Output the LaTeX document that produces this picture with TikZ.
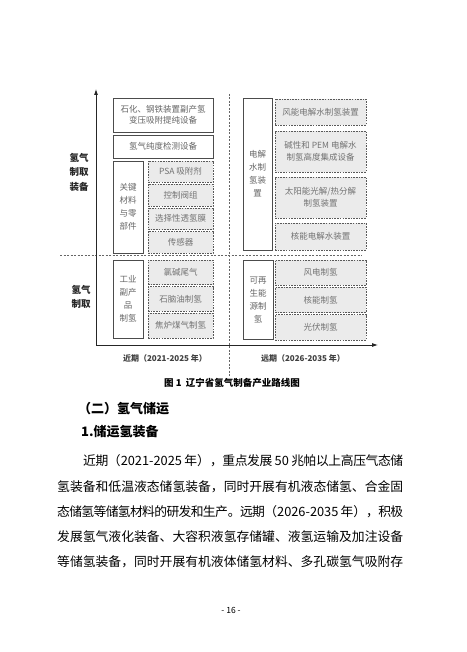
\documentclass[tikz,border=0pt]{standalone}
\usepackage{fontspec}
\setmainfont{Noto Sans CJK SC}
\usepackage{tikz}
\usetikzlibrary{arrows.meta, positioning}
\XeTeXlinebreaklocale "zh"
\XeTeXlinebreakskip=0pt plus 2pt minus 0.8pt

\begin{document}
\begin{tikzpicture}[
  x=1pt, y=-1pt,
  every node/.style={font=\fontsize{8.5}{11.5}\selectfont, inner sep=1pt},
  solidbox/.style={rectangle, draw=black!70, line width=0.9pt, fill=white,
                   text=black!60, align=center},
  narrowbox/.style={solidbox, minimum width=30,
                    font=\fontsize{8.5}{13}\selectfont},
  dashbox/.style={rectangle, draw=black!65, line width=0.9pt,
                  dash pattern=on 1.6pt off 1.1pt, fill=black!8,
                  text=black!55, align=center},
  divider/.style={draw=black!60, line width=0.7pt, dash pattern=on 2pt off 1.5pt},
  axis/.style={draw=black!85, line width=0.8pt},
  ylabel/.style={align=center, text=black!85,
                 font=\fontsize{9.5}{14.5}\selectfont\bfseries},
  xlabel/.style={text=black!75, font=\fontsize{8}{10}\selectfont\bfseries},
  caption/.style={font=\fontsize{9.5}{11}\selectfont\bfseries},
  heading/.style={anchor=west, inner sep=0pt,
                  font=\fontsize{13}{15}\selectfont\bfseries},
  bodyline/.style={anchor=west, inner sep=0pt, text width=346, align=justify,
                   font=\fontsize{12.8}{15}\selectfont,
                   execute at begin node={\parindent=0pt\parfillskip=0pt}},
]
  \useasboundingbox[fill=white] (0,0) rectangle (466,652);

  \coordinate (ytip) at (96,89);
  \coordinate (origin) at (96,345);
  \coordinate (xtip) at (378,345);
  \coordinate (hl) at (60,255);
  \coordinate (hr) at (362,255);
  \coordinate (vt) at (229,94);
  \coordinate (vb) at (229,377);

  \draw[divider] (hl) -- (hr);
  \draw[divider] (vt) -- (vb);
  \draw[axis, {Latex[length=6pt,width=4pt]}-{Latex[length=6pt,width=4pt]}]
    (ytip) -- (origin) -- (xtip);

  % near term
  \node[solidbox, minimum width=100, minimum height=34] (petro) at (163,115)
    {石化、钢铁装置副产氢\\变压吸附提纯设备};
  \node[solidbox, minimum width=100, minimum height=23] (purity) at (163,146.5)
    {氢气纯度检测设备};
  \node[narrowbox, minimum height=92] (keymat) at (128,207) {关键\\材料\\与零\\部件};
  \node[dashbox, minimum width=65, minimum height=21.5] (psa) at (180.5,171.75) {PSA 吸附剂};
  \node[dashbox, minimum width=65, minimum height=21.5] (valve) at (180.5,195.25) {控制阀组};
  \node[dashbox, minimum width=65, minimum height=21.5] (membrane) at (180.5,218.75) {选择性透氢膜};
  \node[dashbox, minimum width=65, minimum height=21.5] (sensor) at (180.5,242.25) {传感器};

  \node[narrowbox, minimum height=78] (byprod) at (128,299) {工业\\副产\\品\\制氢};
  \node[dashbox, minimum width=65, minimum height=24.7] (chlor) at (180.5,272.3) {氯碱尾气};
  \node[dashbox, minimum width=65, minimum height=24.7] (naph) at (180.5,299) {石脑油制氢};
  \node[dashbox, minimum width=65, minimum height=24.7] (coke) at (180.5,325.7) {焦炉煤气制氢};

  % long term
  \node[narrowbox, minimum width=29, minimum height=152] (electro) at (257.5,174)
    {电解\\水制\\氢装\\置};
  \node[dashbox, minimum width=91, minimum height=26] (windel) at (320.5,112) {风能电解水制氢装置};
  \node[dashbox, minimum width=91, minimum height=41] (pem) at (320.5,151.5)
    {碱性和 PEM 电解水\\制氢高度集成设备};
  \node[dashbox, minimum width=91, minimum height=41] (solar) at (320.5,197.5)
    {太阳能光解/热分解\\制氢装置};
  \node[dashbox, minimum width=91, minimum height=27] (nucel) at (320.5,236.5) {核能电解水装置};

  \node[narrowbox, minimum height=79] (renew) at (258,299.5) {可再\\生能\\源制\\氢};
  \node[dashbox, minimum width=91, minimum height=25.3] (windh) at (320.5,272.7) {风电制氢};
  \node[dashbox, minimum width=91, minimum height=25.3] (nuch) at (320.5,300) {核能制氢};
  \node[dashbox, minimum width=91, minimum height=25.3] (pv) at (320.5,327.3) {光伏制氢};

  \node[ylabel] (equiplbl) at (79,172) {氢气\\制取\\装备};
  \node[ylabel] (prodlbl) at (81,297) {氢气\\制取};
  \node[xlabel] (nearlbl) at (165,358) {近期（2021-2025 年）};
  \node[xlabel] (farlbl) at (303,358) {远期（2026-2035 年）};
  \node[caption] (cap) at (232,383) {图 1\ \ 辽宁省氢气制备产业路线图};

  % text below
  \node[heading] (sec) at (78,409) {（二）氢气储运};
  \node[heading] (subsec) at (81,432) {1.储运氢装备};
  \node[bodyline, text width=320] (line1) at (83,461)
    {近期（2021-2025 年），重点发展 50 兆帕以上高压气态储};
  \node[bodyline] (line2) at (57,487) {氢装备和低温液态储氢装备，同时开展有机液态储氢、合金固};
  \node[bodyline] (line3) at (57,512) {态储氢等储氢材料的研发和生产。远期（2026-2035 年），积极};
  \node[bodyline] (line4) at (57,537) {发展氢气液化装备、大容积液氢存储罐、液氢运输及加注设备};
  \node[bodyline] (line5) at (57,562) {等储氢装备，同时开展有机液体储氢材料、多孔碳氢气吸附存};
  \node[font=\fontsize{8.5}{10}\selectfont] (page) at (231,610) {- 16 -};
\end{tikzpicture}
\end{document}
